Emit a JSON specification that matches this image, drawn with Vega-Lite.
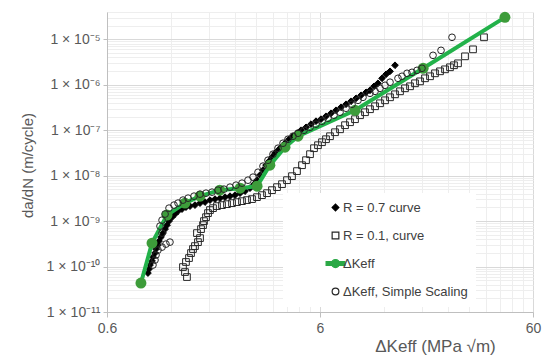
{
  "$schema": "https://vega.github.io/schema/vega-lite/v6.json",
  "width": 426,
  "height": 300,
  "autosize": {"type": "none"},
  "padding": {"left": 107, "top": 12, "right": 17, "bottom": 51},
  "background": "white",
  "config": {
    "view": {"stroke": null},
    "legend": {
      "orient": "none", "legendX": 176, "legendY": 181, "padding": 8, "fillColor": "white",
      "rowPadding": 14, "symbolSize": 45, "symbolStrokeWidth": 1.2, "symbolOffset": 38,
      "labelFont": "Liberation Sans", "labelFontSize": 13, "labelColor": "#404040", "labelOffset": 1, "labelLimit": 400
    }
  },
  "data": {"values": [
    {"s":"R = 0.7 curve","k":0.934,"v":7.19e-11},{"s":"R = 0.7 curve","k":0.945,"v":8.81e-11},{"s":"R = 0.7 curve","k":0.955,"v":1.08e-10},{"s":"R = 0.7 curve","k":0.976,"v":1.32e-10},{"s":"R = 0.7 curve","k":0.986,"v":1.62e-10},{"s":"R = 0.7 curve","k":1.008,"v":1.98e-10},{"s":"R = 0.7 curve","k":1.019,"v":2.43e-10},{"s":"R = 0.7 curve","k":1.041,"v":2.97e-10},{"s":"R = 0.7 curve","k":1.053,"v":3.63e-10},{"s":"R = 0.7 curve","k":1.076,"v":4.45e-10},{"s":"R = 0.7 curve","k":1.1,"v":5.45e-10},{"s":"R = 0.7 curve","k":1.124,"v":6.67e-10},{"s":"R = 0.7 curve","k":1.148,"v":8.17e-10},{"s":"R = 0.7 curve","k":1.173,"v":1.0e-9},{"s":"R = 0.7 curve","k":1.212,"v":1.22e-9},{"s":"R = 0.7 curve","k":1.252,"v":1.43e-9},{"s":"R = 0.7 curve","k":1.293,"v":1.66e-9},{"s":"R = 0.7 curve","k":1.35,"v":1.84e-9},{"s":"R = 0.7 curve","k":1.409,"v":2.03e-9},{"s":"R = 0.7 curve","k":1.472,"v":2.14e-9},{"s":"R = 0.7 curve","k":1.553,"v":2.25e-9},{"s":"R = 0.7 curve","k":1.64,"v":2.49e-9},{"s":"R = 0.7 curve","k":1.731,"v":2.62e-9},{"s":"R = 0.7 curve","k":1.827,"v":2.9e-9},{"s":"R = 0.7 curve","k":1.929,"v":3.05e-9},{"s":"R = 0.7 curve","k":2.036,"v":3.2e-9},{"s":"R = 0.7 curve","k":2.149,"v":3.37e-9},{"s":"R = 0.7 curve","k":2.268,"v":3.54e-9},{"s":"R = 0.7 curve","k":2.394,"v":3.73e-9},{"s":"R = 0.7 curve","k":2.527,"v":4.12e-9},{"s":"R = 0.7 curve","k":2.667,"v":4.56e-9},{"s":"R = 0.7 curve","k":2.815,"v":5.31e-9},{"s":"R = 0.7 curve","k":2.939,"v":6.5e-9},{"s":"R = 0.7 curve","k":3.035,"v":7.96e-9},{"s":"R = 0.7 curve","k":3.135,"v":1.03e-8},{"s":"R = 0.7 curve","k":3.239,"v":1.32e-8},{"s":"R = 0.7 curve","k":3.347,"v":1.7e-8},{"s":"R = 0.7 curve","k":3.457,"v":2.08e-8},{"s":"R = 0.7 curve","k":3.571,"v":2.55e-8},{"s":"R = 0.7 curve","k":3.689,"v":3.13e-8},{"s":"R = 0.7 curve","k":3.811,"v":3.63e-8},{"s":"R = 0.7 curve","k":3.937,"v":4.23e-8},{"s":"R = 0.7 curve","k":4.111,"v":5.18e-8},{"s":"R = 0.7 curve","k":4.292,"v":6.34e-8},{"s":"R = 0.7 curve","k":4.481,"v":7.38e-8},{"s":"R = 0.7 curve","k":4.679,"v":8.59e-8},{"s":"R = 0.7 curve","k":4.886,"v":1.0e-7},{"s":"R = 0.7 curve","k":5.158,"v":1.16e-7},{"s":"R = 0.7 curve","k":5.443,"v":1.36e-7},{"s":"R = 0.7 curve","k":5.746,"v":1.58e-7},{"s":"R = 0.7 curve","k":6.065,"v":1.75e-7},{"s":"R = 0.7 curve","k":6.402,"v":2.03e-7},{"s":"R = 0.7 curve","k":6.757,"v":2.36e-7},{"s":"R = 0.7 curve","k":7.134,"v":2.75e-7},{"s":"R = 0.7 curve","k":7.53,"v":3.2e-7},{"s":"R = 0.7 curve","k":7.95,"v":3.73e-7},{"s":"R = 0.7 curve","k":8.39,"v":4.34e-7},{"s":"R = 0.7 curve","k":8.86,"v":5.05e-7},{"s":"R = 0.7 curve","k":9.35,"v":5.88e-7},{"s":"R = 0.7 curve","k":9.87,"v":6.84e-7},{"s":"R = 0.7 curve","k":10.3,"v":7.57e-7},{"s":"R = 0.7 curve","k":10.76,"v":9.27e-7},{"s":"R = 0.7 curve","k":11.23,"v":1.08e-6},{"s":"R = 0.7 curve","k":11.73,"v":1.39e-6},{"s":"R = 0.7 curve","k":12.25,"v":1.7e-6},{"s":"R = 0.7 curve","k":12.79,"v":1.98e-6},{"s":"R = 0.7 curve","k":13.5,"v":2.69e-6},
    {"s":"R = 0.1, curve","k":1.424,"v":5.88e-11},{"s":"R = 0.1, curve","k":1.394,"v":7.57e-11},{"s":"R = 0.1, curve","k":1.364,"v":9.75e-11},{"s":"R = 0.1, curve","k":1.409,"v":1.26e-10},{"s":"R = 0.1, curve","k":1.456,"v":1.54e-10},{"s":"R = 0.1, curve","k":1.488,"v":1.98e-10},{"s":"R = 0.1, curve","k":1.52,"v":2.43e-10},{"s":"R = 0.1, curve","k":1.553,"v":2.82e-10},{"s":"R = 0.1, curve","k":1.604,"v":3.45e-10},{"s":"R = 0.1, curve","k":1.64,"v":4.23e-10},{"s":"R = 0.1, curve","k":1.587,"v":5.45e-10},{"s":"R = 0.1, curve","k":1.658,"v":6.67e-10},{"s":"R = 0.1, curve","k":1.694,"v":8.17e-10},{"s":"R = 0.1, curve","k":1.712,"v":1.0e-9},{"s":"R = 0.1, curve","k":1.75,"v":1.22e-9},{"s":"R = 0.1, curve","k":1.788,"v":1.5e-9},{"s":"R = 0.1, curve","k":1.827,"v":1.75e-9},{"s":"R = 0.1, curve","k":1.887,"v":1.93e-9},{"s":"R = 0.1, curve","k":1.97,"v":2.14e-9},{"s":"R = 0.1, curve","k":2.08,"v":2.25e-9},{"s":"R = 0.1, curve","k":2.196,"v":2.36e-9},{"s":"R = 0.1, curve","k":2.318,"v":2.49e-9},{"s":"R = 0.1, curve","k":2.446,"v":2.62e-9},{"s":"R = 0.1, curve","k":2.582,"v":2.75e-9},{"s":"R = 0.1, curve","k":2.726,"v":2.9e-9},{"s":"R = 0.1, curve","k":2.877,"v":3.05e-9},{"s":"R = 0.1, curve","k":3.035,"v":3.37e-9},{"s":"R = 0.1, curve","k":3.205,"v":3.73e-9},{"s":"R = 0.1, curve","k":3.384,"v":4.12e-9},{"s":"R = 0.1, curve","k":3.571,"v":4.8e-9},{"s":"R = 0.1, curve","k":3.77,"v":5.59e-9},{"s":"R = 0.1, curve","k":3.979,"v":6.5e-9},{"s":"R = 0.1, curve","k":4.2,"v":7.96e-9},{"s":"R = 0.1, curve","k":4.432,"v":9.75e-9},{"s":"R = 0.1, curve","k":4.679,"v":1.26e-8},{"s":"R = 0.1, curve","k":4.939,"v":1.7e-8},{"s":"R = 0.1, curve","k":5.158,"v":2.19e-8},{"s":"R = 0.1, curve","k":5.386,"v":2.97e-8},{"s":"R = 0.1, curve","k":5.623,"v":4.02e-8},{"s":"R = 0.1, curve","k":5.872,"v":4.68e-8},{"s":"R = 0.1, curve","k":6.131,"v":5.45e-8},{"s":"R = 0.1, curve","k":6.402,"v":6.34e-8},{"s":"R = 0.1, curve","k":6.685,"v":7.38e-8},{"s":"R = 0.1, curve","k":7.057,"v":9.04e-8},{"s":"R = 0.1, curve","k":7.449,"v":1.05e-7},{"s":"R = 0.1, curve","k":7.864,"v":1.29e-7},{"s":"R = 0.1, curve","k":8.3,"v":1.5e-7},{"s":"R = 0.1, curve","k":8.76,"v":1.75e-7},{"s":"R = 0.1, curve","k":9.25,"v":2.14e-7},{"s":"R = 0.1, curve","k":9.76,"v":2.49e-7},{"s":"R = 0.1, curve","k":10.3,"v":2.9e-7},{"s":"R = 0.1, curve","k":10.88,"v":3.37e-7},{"s":"R = 0.1, curve","k":11.48,"v":3.92e-7},{"s":"R = 0.1, curve","k":12.12,"v":4.56e-7},{"s":"R = 0.1, curve","k":12.79,"v":5.31e-7},{"s":"R = 0.1, curve","k":13.5,"v":6.18e-7},{"s":"R = 0.1, curve","k":14.25,"v":7.19e-7},{"s":"R = 0.1, curve","k":15.04,"v":8.38e-7},{"s":"R = 0.1, curve","k":15.88,"v":9.27e-7},{"s":"R = 0.1, curve","k":16.76,"v":1.08e-6},{"s":"R = 0.1, curve","k":17.69,"v":1.19e-6},{"s":"R = 0.1, curve","k":18.67,"v":1.39e-6},{"s":"R = 0.1, curve","k":19.71,"v":1.54e-6},{"s":"R = 0.1, curve","k":20.8,"v":1.79e-6},{"s":"R = 0.1, curve","k":21.96,"v":1.98e-6},{"s":"R = 0.1, curve","k":23.18,"v":2.19e-6},{"s":"R = 0.1, curve","k":24.46,"v":2.43e-6},{"s":"R = 0.1, curve","k":25.54,"v":2.69e-6},{"s":"R = 0.1, curve","k":26.67,"v":2.97e-6},{"s":"R = 0.1, curve","k":28.77,"v":4.23e-6},{"s":"R = 0.1, curve","k":31.37,"v":6.03e-6},{"s":"R = 0.1, curve","k":35.33,"v":1.11e-5},
    {"s":"ΔKeff","k":0.866,"v":4.33e-11},{"s":"ΔKeff","k":0.976,"v":3.28e-10},{"s":"ΔKeff","k":1.148,"v":1.36e-9},{"s":"ΔKeff","k":1.394,"v":2.49e-9},{"s":"ΔKeff","k":1.64,"v":3.54e-9},{"s":"ΔKeff","k":2.03,"v":4.8e-9},{"s":"ΔKeff","k":2.53,"v":5.3e-9},{"s":"ΔKeff","k":3.04,"v":5.88e-9},{"s":"ΔKeff","k":3.49,"v":1.7e-8},{"s":"ΔKeff","k":4.11,"v":4.23e-8},{"s":"ΔKeff","k":4.73,"v":7.38e-8},{"s":"ΔKeff","k":8.77,"v":2.75e-7},{"s":"ΔKeff","k":18.3,"v":2.31e-6},{"s":"ΔKeff","k":44.3,"v":3.05e-5},
    {"s":"ΔKeff, Simple Scaling","k":0.986,"v":1.08e-10},{"s":"ΔKeff, Simple Scaling","k":1.008,"v":1.39e-10},{"s":"ΔKeff, Simple Scaling","k":1.019,"v":1.79e-10},{"s":"ΔKeff, Simple Scaling","k":1.041,"v":2.3e-10},{"s":"ΔKeff, Simple Scaling","k":1.088,"v":2.68e-10},{"s":"ΔKeff, Simple Scaling","k":1.135,"v":3.12e-10},{"s":"ΔKeff, Simple Scaling","k":1.185,"v":3.45e-10},{"s":"ΔKeff, Simple Scaling","k":1.088,"v":5.45e-10},{"s":"ΔKeff, Simple Scaling","k":1.064,"v":7.76e-10},{"s":"ΔKeff, Simple Scaling","k":1.088,"v":1.05e-9},{"s":"ΔKeff, Simple Scaling","k":1.124,"v":1.43e-9},{"s":"ΔKeff, Simple Scaling","k":1.173,"v":1.93e-9},{"s":"ΔKeff, Simple Scaling","k":1.238,"v":2.25e-9},{"s":"ΔKeff, Simple Scaling","k":1.293,"v":2.49e-9},{"s":"ΔKeff, Simple Scaling","k":1.364,"v":2.9e-9},{"s":"ΔKeff, Simple Scaling","k":1.441,"v":3.2e-9},{"s":"ΔKeff, Simple Scaling","k":1.537,"v":3.54e-9},{"s":"ΔKeff, Simple Scaling","k":1.64,"v":3.92e-9},{"s":"ΔKeff, Simple Scaling","k":1.75,"v":4.12e-9},{"s":"ΔKeff, Simple Scaling","k":1.867,"v":4.34e-9},{"s":"ΔKeff, Simple Scaling","k":1.992,"v":4.8e-9},{"s":"ΔKeff, Simple Scaling","k":2.125,"v":5.05e-9},{"s":"ΔKeff, Simple Scaling","k":2.268,"v":5.59e-9},{"s":"ΔKeff, Simple Scaling","k":2.42,"v":6.18e-9},{"s":"ΔKeff, Simple Scaling","k":2.582,"v":6.84e-9},{"s":"ΔKeff, Simple Scaling","k":2.755,"v":7.96e-9},{"s":"ΔKeff, Simple Scaling","k":2.908,"v":9.27e-9},{"s":"ΔKeff, Simple Scaling","k":3.07,"v":1.19e-8},{"s":"ΔKeff, Simple Scaling","k":3.239,"v":1.62e-8},{"s":"ΔKeff, Simple Scaling","k":3.419,"v":2.19e-8},{"s":"ΔKeff, Simple Scaling","k":3.61,"v":2.97e-8},{"s":"ΔKeff, Simple Scaling","k":3.811,"v":4.02e-8},{"s":"ΔKeff, Simple Scaling","k":4.022,"v":5.18e-8},{"s":"ΔKeff, Simple Scaling","k":4.246,"v":6.34e-8},{"s":"ΔKeff, Simple Scaling","k":4.481,"v":7.38e-8},{"s":"ΔKeff, Simple Scaling","k":4.73,"v":8.59e-8},{"s":"ΔKeff, Simple Scaling","k":5.048,"v":1.0e-7},{"s":"ΔKeff, Simple Scaling","k":5.386,"v":1.16e-7},{"s":"ΔKeff, Simple Scaling","k":5.746,"v":1.36e-7},{"s":"ΔKeff, Simple Scaling","k":6.131,"v":1.58e-7},{"s":"ΔKeff, Simple Scaling","k":6.542,"v":1.84e-7},{"s":"ΔKeff, Simple Scaling","k":6.98,"v":2.14e-7},{"s":"ΔKeff, Simple Scaling","k":7.449,"v":2.49e-7},{"s":"ΔKeff, Simple Scaling","k":7.95,"v":3.05e-7},{"s":"ΔKeff, Simple Scaling","k":8.48,"v":3.73e-7},{"s":"ΔKeff, Simple Scaling","k":9.05,"v":4.56e-7},{"s":"ΔKeff, Simple Scaling","k":9.55,"v":5.31e-7},{"s":"ΔKeff, Simple Scaling","k":10.3,"v":6.5e-7},{"s":"ΔKeff, Simple Scaling","k":10.88,"v":7.19e-7},{"s":"ΔKeff, Simple Scaling","k":11.48,"v":8.38e-7},{"s":"ΔKeff, Simple Scaling","k":12.12,"v":9.75e-7},{"s":"ΔKeff, Simple Scaling","k":12.79,"v":1.14e-6},{"s":"ΔKeff, Simple Scaling","k":13.94,"v":1.39e-6},{"s":"ΔKeff, Simple Scaling","k":14.56,"v":1.54e-6},{"s":"ΔKeff, Simple Scaling","k":15.37,"v":1.79e-6},{"s":"ΔKeff, Simple Scaling","k":16.22,"v":1.88e-6},{"s":"ΔKeff, Simple Scaling","k":17.12,"v":2.08e-6},{"s":"ΔKeff, Simple Scaling","k":18.07,"v":2.31e-6},{"s":"ΔKeff, Simple Scaling","k":20.36,"v":4.45e-6},{"s":"ΔKeff, Simple Scaling","k":22.2,"v":5.73e-6},{"s":"ΔKeff, Simple Scaling","k":25.0,"v":1.11e-5}
  ]},
  "encoding": {
    "x": {"field": "k", "type": "quantitative",
      "scale": {"type": "log", "domain": [0.6, 60], "nice": false},
      "axis": {
        "title": "ΔKeff (MPa √m)", "titleFont": "Liberation Sans", "titleFontSize": 17, "titleFontWeight": "normal", "titleColor": "#595959",
        "titleX": 328, "titleY": 39, "titleAlign": "center", "titleBaseline": "alphabetic", "titleAnchor": "start",
        "values": [0.6,1.2,1.8,2.4,3,3.6,4.2,4.8,5.4,6,12,18,24,30,36,42,48,54,60],
        "labelExpr": "datum.value == 0.6 ? '0.6' : datum.value == 6 ? '6' : datum.value == 60 ? '60' : ''",
        "labelFont": "Liberation Sans", "labelFontSize": 14, "labelColor": "#595959", "labelPadding": 4, "labelFlush": false, "labelOverlap": false,
        "tickSize": 5,
        "tickColor": {"condition": {"test": "datum.value == 0.6 || datum.value == 6 || datum.value == 60", "value": "#bfbfbf"}, "value": "transparent"},
        "gridColor": {"condition": {"test": "datum.value == 0.6 || datum.value == 6 || datum.value == 60", "value": "#d9d9d9"}, "value": "#eeeeee"},
        "domainColor": "#bfbfbf"
      }},
    "y": {"field": "v", "type": "quantitative",
      "scale": {"type": "log", "domain": [1e-11, 4e-5], "nice": false},
      "axis": {
        "title": "da/dN (m/cycle)", "titleFont": "Liberation Sans", "titleFontSize": 15, "titleFontWeight": "normal", "titleColor": "#595959",
        "titleX": -80, "titleY": 153, "titleAlign": "center", "titleBaseline": "middle", "titleAngle": 270,
        "values": [1e-11,2e-11,3e-11,4e-11,5e-11,6e-11,7e-11,8e-11,9e-11,1e-10,2e-10,3e-10,4e-10,5e-10,6e-10,7e-10,8e-10,9e-10,1e-9,2e-9,3e-9,4e-9,5e-9,6e-9,7e-9,8e-9,9e-9,1e-8,2e-8,3e-8,4e-8,5e-8,6e-8,7e-8,8e-8,9e-8,1e-7,2e-7,3e-7,4e-7,5e-7,6e-7,7e-7,8e-7,9e-7,1e-6,2e-6,3e-6,4e-6,5e-6,6e-6,7e-6,8e-6,9e-6,1e-5,2e-5,3e-5,4e-5],
        "labelExpr": "abs(log(datum.value)/LN10 - round(log(datum.value)/LN10)) < 0.001 ? '1 × 10' + ['⁻¹¹','⁻¹⁰','⁻⁹','⁻⁸','⁻⁷','⁻⁶','⁻⁵'][round(log(datum.value)/LN10) + 11] : ''",
        "labelFont": "Liberation Sans", "labelFontSize": 14, "labelColor": "#595959", "labelPadding": 3, "labelOverlap": false,
        "tickSize": 4,
        "tickColor": {"condition": {"test": "abs(log(datum.value)/LN10 - round(log(datum.value)/LN10)) < 0.001", "value": "#bfbfbf"}, "value": "transparent"},
        "gridColor": {"condition": {"test": "abs(log(datum.value)/LN10 - round(log(datum.value)/LN10)) < 0.001", "value": "#d9d9d9"}, "value": "#eeeeee"},
        "domainColor": "#bfbfbf"
      }}
  },
  "layer": [
    {
      "transform": [{"filter": "datum.s == 'R = 0.7 curve' || datum.s == 'R = 0.1, curve'"}],
      "mark": {"type": "point", "filled": true, "size": 45, "strokeWidth": 1, "opacity": 1},
      "encoding": {
        "shape": {"field": "s", "type": "nominal",
          "scale": {"domain": ["R = 0.7 curve", "R = 0.1, curve", "ΔKeff", "ΔKeff, Simple Scaling"], "range": ["diamond", "square", "M-2.8,-0.6H2.8V0.6H-2.8Z M-1.2,0A1.2,1.2,0,1,1,1.2,0A1.2,1.2,0,1,1,-1.2,0Z", "circle"]},
          "legend": {"title": null, "labelExpr": "datum.label + '\u00a0\u00a0\u00a0\u00a0\u00a0\u00a0\u00a0\u00a0\u00a0\u00a0'"}},
        "fill": {"field": "s", "type": "nominal",
          "scale": {"domain": ["R = 0.7 curve", "R = 0.1, curve", "ΔKeff", "ΔKeff, Simple Scaling"], "range": ["#000000", "transparent", "#2aa845", "transparent"]},
          "legend": {"title": null, "labelExpr": "datum.label + '\u00a0\u00a0\u00a0\u00a0\u00a0\u00a0\u00a0\u00a0\u00a0\u00a0'"}},
        "stroke": {"field": "s", "type": "nominal",
          "scale": {"domain": ["R = 0.7 curve", "R = 0.1, curve", "ΔKeff", "ΔKeff, Simple Scaling"], "range": ["#000000", "#262626", "#2aa845", "#262626"]},
          "legend": {"title": null, "labelExpr": "datum.label + '\u00a0\u00a0\u00a0\u00a0\u00a0\u00a0\u00a0\u00a0\u00a0\u00a0'"}}
      }
    },
    {
      "transform": [{"filter": "datum.s == 'ΔKeff'"}],
      "mark": {"type": "line", "color": "#22b24a", "strokeWidth": 4},
      "encoding": {}
    },
    {
      "transform": [{"filter": "datum.s == 'ΔKeff'"}],
      "mark": {"type": "point", "filled": true, "size": 120, "color": "#3d9c3a", "opacity": 1},
      "encoding": {}
    },
    {
      "transform": [{"filter": "datum.s == 'ΔKeff, Simple Scaling'"}],
      "mark": {"type": "point", "filled": true, "size": 45, "strokeWidth": 1, "opacity": 1},
      "encoding": {
        "shape": {"field": "s", "type": "nominal",
          "scale": {"domain": ["R = 0.7 curve", "R = 0.1, curve", "ΔKeff", "ΔKeff, Simple Scaling"], "range": ["diamond", "square", "M-2.8,-0.6H2.8V0.6H-2.8Z M-1.2,0A1.2,1.2,0,1,1,1.2,0A1.2,1.2,0,1,1,-1.2,0Z", "circle"]},
          "legend": {"title": null, "labelExpr": "datum.label + '\u00a0\u00a0\u00a0\u00a0\u00a0\u00a0\u00a0\u00a0\u00a0\u00a0'"}},
        "fill": {"field": "s", "type": "nominal",
          "scale": {"domain": ["R = 0.7 curve", "R = 0.1, curve", "ΔKeff", "ΔKeff, Simple Scaling"], "range": ["#000000", "transparent", "#2aa845", "transparent"]},
          "legend": {"title": null, "labelExpr": "datum.label + '\u00a0\u00a0\u00a0\u00a0\u00a0\u00a0\u00a0\u00a0\u00a0\u00a0'"}},
        "stroke": {"field": "s", "type": "nominal",
          "scale": {"domain": ["R = 0.7 curve", "R = 0.1, curve", "ΔKeff", "ΔKeff, Simple Scaling"], "range": ["#000000", "#262626", "#2aa845", "#262626"]},
          "legend": {"title": null, "labelExpr": "datum.label + '\u00a0\u00a0\u00a0\u00a0\u00a0\u00a0\u00a0\u00a0\u00a0\u00a0'"}}
      }
    }
  ]
}
